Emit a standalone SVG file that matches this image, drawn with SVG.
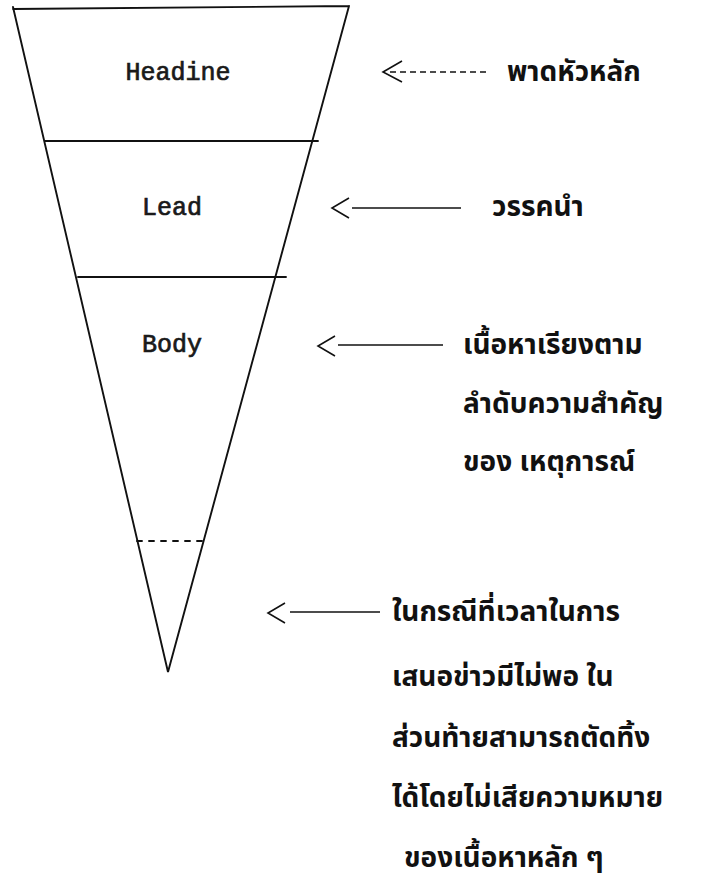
<svg xmlns="http://www.w3.org/2000/svg" width="710" height="895" viewBox="0 0 710 895">
<style>
.ln{stroke:#111;stroke-width:1.9;fill:none;stroke-linecap:round}
.ar{stroke:#111;stroke-width:1.6;fill:none}
.en{font-family:"Liberation Mono",monospace;font-size:25px;fill:#1a1a1a;stroke:#1a1a1a;stroke-width:0.7;text-anchor:middle}
.th{font-family:"Noto Sans Thai","Loma","Garuda","Noto Sans","DejaVu Sans",sans-serif;font-size:28px;font-weight:bold;fill:#111}
</style>
<rect width="710" height="895" fill="#fff"/>
<g id="funnel">
<path class="ln" d="M13,9 L349,6 M13,7 L168,672 L349,6"/>
</g>
<g id="headline">
<line class="ln" x1="45" y1="141" x2="318" y2="141"/>
<text class="en" x="178" y="80">Headine</text>
</g>
<g id="lead">
<line class="ln" x1="78" y1="277" x2="286" y2="277"/>
<text class="en" x="172" y="215">Lead</text>
</g>
<g id="body">
<line class="ln" x1="137" y1="541" x2="206" y2="541" stroke-dasharray="5,7"/>
<text class="en" x="172" y="352">Body</text>
</g>
<g id="connectors">
<polyline class="ar" points="402,61 383,72 402,82"/>
<line class="ar" x1="390" y1="72" x2="488" y2="72" stroke-dasharray="6,4"/>
<polyline class="ar" points="349,198 332,208 349,218"/>
<line class="ar" x1="352" y1="208" x2="461" y2="208"/>
<polyline class="ar" points="335,336 318,346 335,356"/>
<line class="ar" x1="338" y1="345" x2="443" y2="345"/>
<polyline class="ar" points="285,603 268,613 285,623"/>
<line class="ar" x1="290" y1="612" x2="380" y2="612"/>
</g>
<g id="labels">
<text class="th" x="507" y="81">พาดหัวหลัก</text>
<text class="th" x="492" y="216">วรรคนำ</text>
<text class="th" x="463" y="354">เนื้อหาเรียงตาม</text>
<text class="th" x="463" y="413">ลำดับความสำคัญ</text>
<text class="th" x="463" y="471">ของ เหตุการณ์</text>
<text class="th" x="392" y="621">ในกรณีที่เวลาในการ</text>
<text class="th" x="392" y="686">เสนอข่าวมีไม่พอ ใน</text>
<text class="th" x="392" y="747">ส่วนท้ายสามารถตัดทิ้ง</text>
<text class="th" x="392" y="807">ได้โดยไม่เสียความหมาย</text>
<text class="th" x="404" y="867">ของเนื้อหาหลัก ๆ</text>
</g>
</svg>
